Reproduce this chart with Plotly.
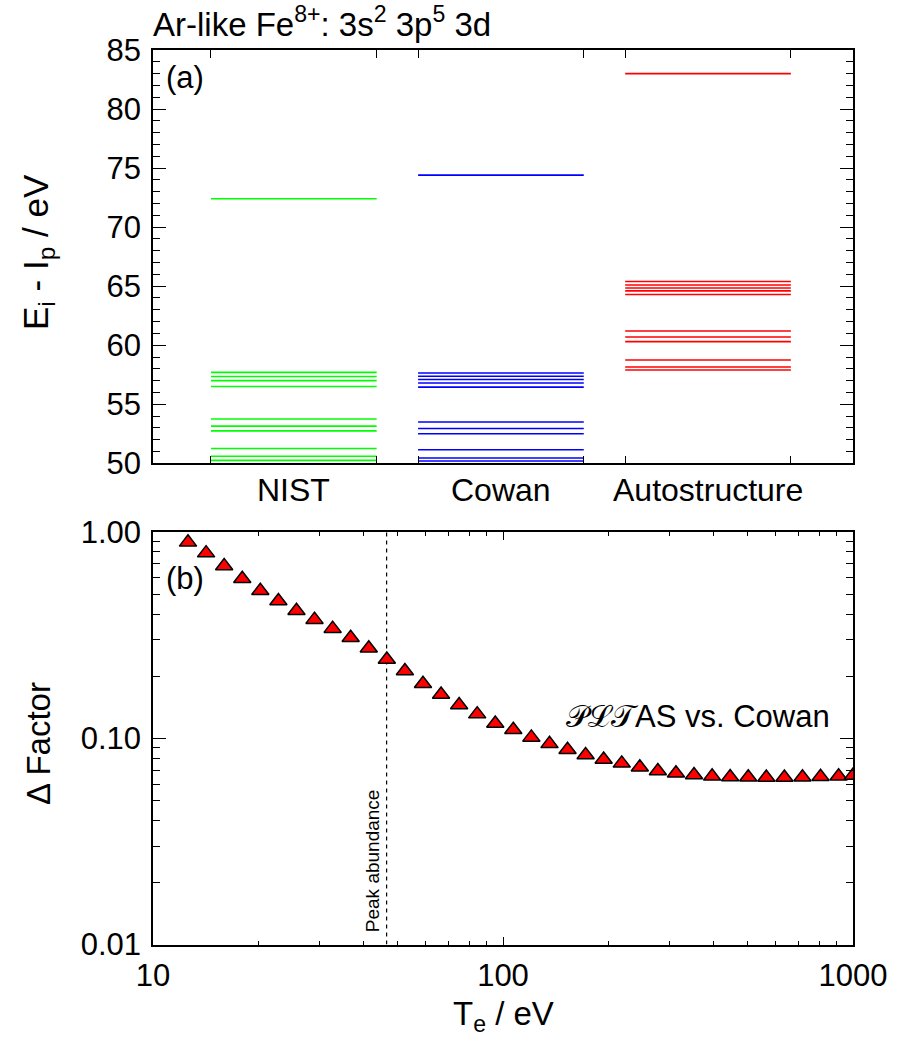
import math
import plotly.graph_objects as go

W, H = 897, 1043
FONT = "Liberation Sans, Arial, sans-serif"
FS = 31

# ---- Panel (a): level energies E_i - I_p (eV) for the 3s2 3p5 3d configuration
codes = ["NIST", "Cowan", "Autostructure"]
nist_levels = [72.4, 57.7, 57.35, 57.0, 56.5, 53.75, 53.15, 52.75, 51.25, 50.6, 50.25]
cowan_levels = [74.4, 57.65, 57.37, 57.1, 56.8, 56.45, 53.5, 52.95, 52.5, 51.15, 50.45, 50.2]
auto_levels = [83.0, 65.4, 65.1, 64.85, 64.6, 64.3, 61.2, 60.7, 60.3, 58.75, 58.15, 57.9]
level_colors = ["#00ff00", "#0000ff", "#ff0000"]
half_width = 0.4

# ---- Panel (b): Delta factor of PLT (AS vs. Cowan) against electron temperature
te_ev = [12.59, 14.18, 15.97, 17.99, 20.26, 22.82, 25.70, 28.94, 32.60, 36.71,
         41.35, 46.57, 52.45, 59.07, 66.53, 74.93, 84.39, 95.04, 107.0, 120.5,
         135.8, 152.9, 172.2, 193.9, 218.4, 246.0, 277.0, 312.0, 351.4, 395.8,
         445.7, 502.0, 565.4, 636.8, 717.2, 807.7, 909.7, 1000.0]
delta_factor = [0.891, 0.790, 0.684, 0.594, 0.519, 0.463, 0.415, 0.376, 0.340, 0.307,
                0.273, 0.241, 0.212, 0.184, 0.163, 0.145, 0.131, 0.118, 0.110, 0.101,
                0.094, 0.088, 0.083, 0.079, 0.0756, 0.0724, 0.0694, 0.0677, 0.0664, 0.0654,
                0.0649, 0.0647, 0.0646, 0.0646, 0.0648, 0.0651, 0.0655, 0.066]
peak_te = 46.5

fig = go.Figure()

# level lines, one trace per code
for i, (levels, col) in enumerate(zip([nist_levels, cowan_levels, auto_levels], level_colors)):
    xs, ys = [], []
    for e in levels:
        xs += [i - half_width, i + half_width, None]
        ys += [e, e, None]
    fig.add_trace(go.Scatter(x=xs, y=ys, mode="lines", line=dict(color=col, width=1.6),
                             xaxis="x", yaxis="y", showlegend=False, hoverinfo="skip"))

# peak abundance marker line
fig.add_trace(go.Scatter(x=[peak_te, peak_te], y=[0.01, 1.0], mode="lines",
                         line=dict(color="black", width=1.2, dash="4px,4px"),
                         xaxis="x2", yaxis="y2", showlegend=False, hoverinfo="skip"))

fig.add_trace(go.Scatter(x=te_ev, y=delta_factor, mode="markers",
                         marker=dict(symbol="triangle-up", size=15, color="#ff0000",
                                     line=dict(color="black", width=1.5)),
                         xaxis="x2", yaxis="y2", showlegend=False, cliponaxis=True))

axis_common = dict(showline=True, linecolor="black", linewidth=1.6, mirror="ticks",
                   ticks="inside", tickcolor="black", tickwidth=1.4,
                   showgrid=False, zeroline=False, automargin=False,
                   tickfont=dict(family=FONT, size=FS, color="black"))

x_dom = [153 / W, 853 / W]
edge_ticks = []
for i in range(len(codes)):
    edge_ticks += [i - half_width, i + half_width]

minor_y2 = [m * 10 ** d for d in (-2, -1) for m in range(2, 10)]
minor_x2 = [m * 10 ** d for d in (1, 2) for m in range(2, 10)]

fig.update_layout(
    template="none",
    width=W, height=H,
    margin=dict(l=0, r=0, t=0, b=0, pad=0),
    paper_bgcolor="white", plot_bgcolor="white",
    font=dict(family=FONT, size=FS, color="black"),
    xaxis=dict(axis_common, domain=x_dom, anchor="y", range=[-0.68, 2.70],
               tickvals=edge_ticks, ticktext=[""] * len(edge_ticks), ticklen=8),
    yaxis=dict(axis_common, domain=[1 - 463.3 / H, 1 - 50 / H], anchor="x",
               range=[50, 85], tickvals=[50, 55, 60, 65, 70, 75, 80, 85], ticklen=13,
               minor=dict(dtick=1, ticks="inside", ticklen=7, tickcolor="black", tickwidth=1.4),
               ticklabelstandoff=4),
    xaxis2=dict(axis_common, domain=x_dom, anchor="y2", type="log", range=[1, 3],
                tickvals=[10, 100, 1000], ticktext=["10", "100", "1000"], ticklen=8,
                minor=dict(tickvals=minor_x2, ticks="inside", ticklen=4, tickcolor="black", tickwidth=1.2),
                ticklabelstandoff=2),
    yaxis2=dict(axis_common, domain=[1 - 944.6 / H, 1 - 532 / H], anchor="x2", type="log",
                range=[-2, 0], tickvals=[0.01, 0.1, 1.0], ticktext=["0.01", "0.10", "1.00"],
                ticklen=13,
                minor=dict(tickvals=minor_y2, ticks="inside", ticklen=7, tickcolor="black", tickwidth=1.4),
                ticklabelstandoff=4),
)

ann = []
def txt(text, x, y, xref="paper", yref="paper", size=FS, **kw):
    d = dict(text=text, x=x, y=y, xref=xref, yref=yref, showarrow=False,
             font=dict(family=FONT, size=size, color="black"))
    d.update(kw)
    ann.append(d)

# title
txt("Ar-like Fe<sup>8+</sup>: 3s<sup>2</sup> 3p<sup>5</sup> 3d", 151 / W, 1 - 22 / H,
    xanchor="left", yanchor="middle", size=33)
# panel labels
txt("(a)", 164 / W, 1 - 77 / H, xanchor="left", yanchor="middle")
txt("(b)", 164 / W, 1 - 578 / H, xanchor="left", yanchor="middle")
# code names under the level columns
for i, c in enumerate(codes):
    txt(c, i, 1 - 490 / H, xref="x", xanchor="center", yanchor="middle", size=32)
# axis titles
txt("E<sub>i</sub> - I<sub>p</sub> / eV", 38 / W, 1 - 252 / H, textangle=-90,
    xanchor="center", yanchor="middle", size=35)
txt("\u0394 Factor", 38 / W, 1 - 744 / H, textangle=-90, xanchor="center", yanchor="middle",
    size=33)
txt("T<sub>e</sub> / eV", 503 / W, 1 - 1016 / H, xanchor="center", yanchor="middle", size=33)
# series label
txt("\U0001D4AB\u2112\U0001D4AFAS vs. Cowan", 832 / W, 1 - 716 / H, xanchor="right", yanchor="middle")
# peak abundance label
txt("Peak abundance", math.log10(peak_te), -2, xref="x2", yref="y2", size=19,
    textangle=-90, xanchor="right", yanchor="bottom", xshift=-2, yshift=10)

fig.update_layout(annotations=ann)
fig.write_html("out.html")
